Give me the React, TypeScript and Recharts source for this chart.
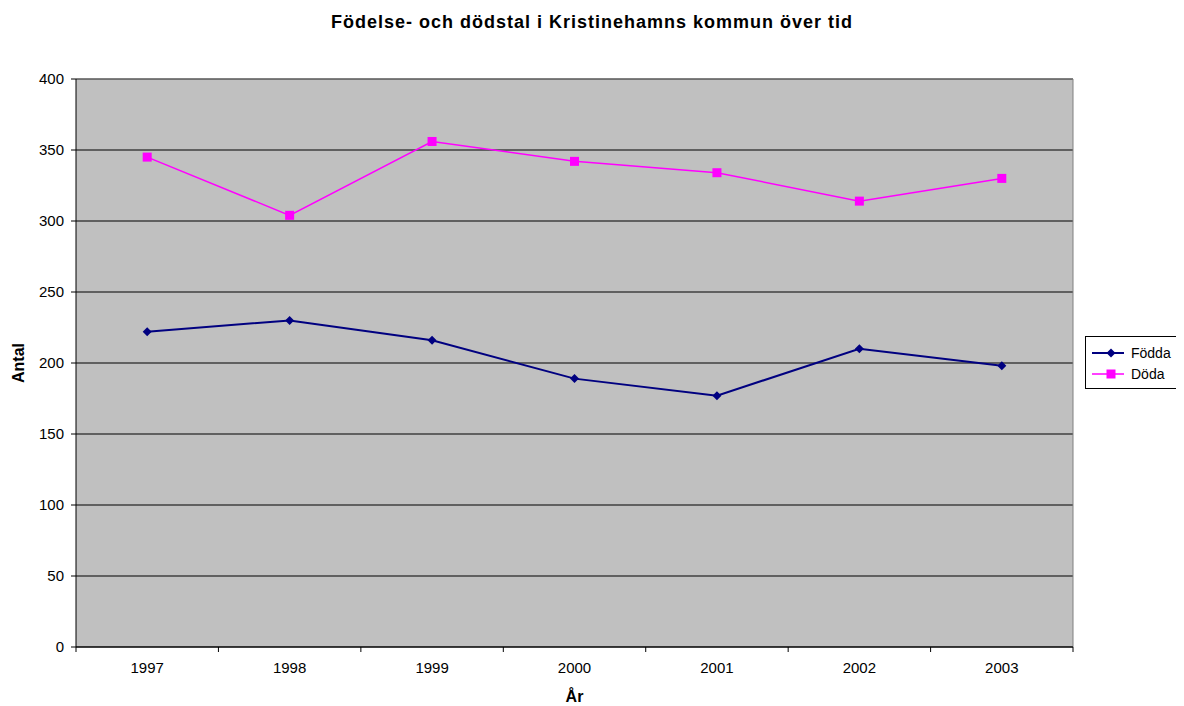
import { CartesianGrid, Line, LineChart, ReferenceLine, XAxis, YAxis } from "recharts";

const years = ["1997", "1998", "1999", "2000", "2001", "2002", "2003"];
const fodda = [222, 230, 216, 189, 177, 210, 198];
const doda = [345, 304, 356, 342, 334, 314, 330];
const yTicks = [0, 50, 100, 150, 200, 250, 300, 350, 400];

const data = years.map((year, i) => ({ year, Födda: fodda[i], Döda: doda[i] }));

const font = "'Liberation Sans', Arial, sans-serif";
const halfStep = 71.2;

const Diamond = (props: any) => {
    const { cx, cy, index } = props;
    if (cx == null || cy == null) return <g key={index} />;
    return <path key={index} d={`M${cx},${cy - 4.5}L${cx + 4.5},${cy}L${cx},${cy + 4.5}L${cx - 4.5},${cy}Z`} fill="#000080" />;
};

const Square = (props: any) => {
    const { cx, cy, index } = props;
    if (cx == null || cy == null) return <g key={index} />;
    return <rect key={index} x={cx - 4.5} y={cy - 4.5} width={9} height={9} fill="#FF00FF" />;
};

// category label plus the tick marks between categories
const YearTick = (props: any) => {
    const { x, y, payload, index } = props;
    const top = y - 8;
    return (
        <g>
            <line x1={x - halfStep} y1={top} x2={x - halfStep} y2={top + 5} stroke="#000" />
            {index === years.length - 1 && <line x1={x + halfStep} y1={top} x2={x + halfStep} y2={top + 5} stroke="#000" />}
            <text x={x} y={y + 18} textAnchor="middle" fill="#000" fontSize={15} fontFamily={font}>{payload.value}</text>
        </g>
    );
};

// right border of the plot area, half a category past the last point
const RightBorder = (props: any) => {
    const { x1, y1, x2, y2 } = props;
    return <line x1={x1 + halfStep} y1={y1} x2={x2 + halfStep} y2={y2} stroke="#808080" />;
};

const AntalLabel = (props: any) => {
    const { viewBox } = props;
    const cy = viewBox.y + viewBox.height / 2;
    return <text x={16} y={cy} transform={`rotate(-90, 16, ${cy})`} textAnchor="middle" fill="#000" fontSize={16} fontWeight="bold" fontFamily={font}>Antal</text>;
};

const LegendBox = () =>
    <div style={{ position: "absolute", left: 1077, top: 328, border: "1px solid #000", background: "#fff", width: 97, height: 53, boxSizing: "border-box", padding: "5px 0", fontFamily: font, fontSize: 14 }}>
        <div style={{ display: "flex", alignItems: "center", height: 21 }}>
            <svg width={40} height={12}>
                <line x1={6} y1={6} x2={38} y2={6} stroke="#000080" strokeWidth={2} />
                <path d="M25,1.5L29.5,6L25,10.5L20.5,6Z" fill="#000080" />
            </svg>
            <span style={{ marginLeft: 5 }}>Födda</span>
        </div>
        <div style={{ display: "flex", alignItems: "center", height: 21 }}>
            <svg width={40} height={12}>
                <line x1={6} y1={6} x2={38} y2={6} stroke="#FF00FF" strokeWidth={1.5} />
                <rect x={20.5} y={1.5} width={9} height={9} fill="#FF00FF" />
            </svg>
            <span style={{ marginLeft: 5 }}>Döda</span>
        </div>
    </div>;

export default function App() {
    return (
        <div style={{ position: "relative", width: 1176, height: 698, fontFamily: font }}>
            <div style={{ position: "absolute", top: 4, left: -4, width: 1176, textAlign: "center", fontWeight: "bold", fontSize: 18, letterSpacing: 1 }}>
                Födelse- och dödstal i Kristinehamns kommun över tid
            </div>
            <LineChart width={1176} height={698} data={data} margin={{ top: 71, right: 111, bottom: 0, left: 0 }}>
                <CartesianGrid vertical={false} fill="#C0C0C0" fillOpacity={1} stroke="#000" strokeOpacity={1} />
                <XAxis dataKey="year" height={59} padding={{ left: halfStep, right: halfStep }} tickLine={false} axisLine={{ stroke: "#000" }}
                    tick={YearTick} interval={0}
                    label={{ value: "År", position: "insideBottom", offset: 4, fill: "#000", fontSize: 16, fontWeight: "bold", fontFamily: font }} />
                <YAxis width={68} domain={[0, 400]} ticks={yTicks} interval={0} axisLine={{ stroke: "#000" }} tickLine={{ stroke: "#000" }} tickSize={5} tickMargin={7}
                    tick={{ fill: "#000", fontSize: 15, fontFamily: font }}
                    label={<AntalLabel />} />
                <ReferenceLine y={400} stroke="#808080" />
                <ReferenceLine x="2003" shape={RightBorder} />
                <Line dataKey="Födda" stroke="#000080" strokeWidth={2} dot={Diamond} activeDot={false} isAnimationActive={false} />
                <Line dataKey="Döda" stroke="#FF00FF" strokeWidth={1.5} dot={Square} activeDot={false} isAnimationActive={false} />
            </LineChart>
            <LegendBox />
        </div>
    );
}
